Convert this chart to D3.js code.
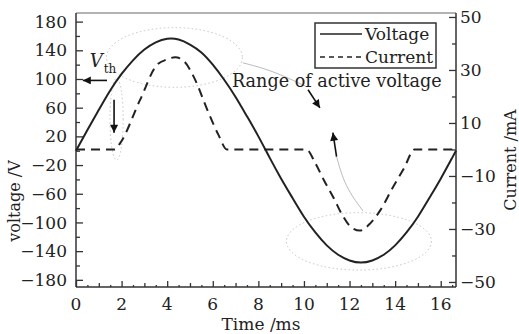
<!DOCTYPE html>
<html><head><meta charset="utf-8">
<script src="https://cdn.jsdelivr.net/npm/d3@7"></script>
<style>
html,body{margin:0;padding:0;background:#fff;}
svg text{font-family:"DejaVu Serif",serif;fill:#222;}
</style></head>
<body><svg id="c" width="519" height="334"></svg>
<script>
// ---- data ----
const voltageTime = [0,0.5,1,1.5,2,2.5,3,3.5,4,4.5,5,5.5,6,6.5,7,7.5,8,8.5,9,9.5,10,10.5,11,11.5,12,12.5,13,13.5,14,14.5,15,15.5,16,16.5,16.67];
const voltageValues = [0,29,57,84,107,126,141,151,156,155,148,137,120,99,75,48,20,-10,-39,-66,-92,-114,-132,-145,-153,-156,-153,-145,-132,-114,-92,-66,-39,-10,0];
const currentTime = [0,1.0,1.7,1.93,2.81,3.55,4.0,4.35,4.75,5.16,5.82,6.25,6.62,8.0,10.1,10.5,10.87,11.31,11.68,12.04,12.45,12.92,13.36,13.88,14.39,14.85,16.0,16.67];
const currentValues = [0,0,0,2.3,18.7,31.9,34.0,34.8,33.2,27.5,13.7,5.5,0,0,0,-5.2,-11.5,-18.4,-24.7,-29.1,-30.6,-27.8,-22.8,-14.6,-7.1,0,0,0];
const timeTicks = [0,2,4,6,8,10,12,14,16];
const voltageTicks = [180,140,100,60,20,-20,-60,-100,-140,-180];
const currentTicks = [50,30,10,-10,-30,-50];
const seriesNames = ["Voltage","Current"];

const svg = d3.select("#c");
const L=76,R=456,T=13,B=287;
const x = d3.scaleLinear([0,16.67],[L,R]);
const yV = d3.scaleLinear([-190,192],[B,T]);
const yI = d3.scaleLinear([-51.9,51.5],[B,T]);
const ink="#222";

// frame top
svg.append("line").attr("x1",L).attr("x2",R).attr("y1",T).attr("y2",T).attr("stroke","#999").attr("stroke-width",1.5);

// left axis
const gL = svg.append("g").attr("transform",`translate(${L},0)`);
gL.call(d3.axisRight(yV).tickValues(d3.range(-180,181,20)).tickSize(4).tickFormat(""));
gL.call(g=>g.selectAll(".tick line").filter(d=>voltageTicks.includes(d)).attr("x2",7));
gL.select(".domain").remove();
gL.append("line").attr("y1",T).attr("y2",B).attr("stroke","#333").attr("stroke-width",1.5);
gL.selectAll(".tick line").attr("stroke","#333").attr("stroke-width",1.3);
gL.selectAll(".vt").data(voltageTicks).join("text").attr("class","vt")
  .attr("x",-9).attr("y",d=>yV(d)).attr("dy","0.36em").attr("text-anchor","end")
  .style("font-size","17px").text(d=>d3.format("")(d));

// right axis
const gR = svg.append("g").attr("transform",`translate(${R},0)`);
gR.call(d3.axisLeft(yI).tickValues(d3.range(-50,51,10)).tickSize(4).tickFormat(""));
gR.call(g=>g.selectAll(".tick line").filter(d=>currentTicks.includes(d)).attr("x2",-7));
gR.select(".domain").remove();
gR.append("line").attr("y1",T).attr("y2",B).attr("stroke","#333").attr("stroke-width",1.5);
gR.selectAll(".tick line").attr("stroke","#333").attr("stroke-width",1.3);
gR.selectAll(".ct").data(currentTicks).join("text").attr("class","ct")
  .attr("x",4).attr("y",d=>yI(d)).attr("dy","0.36em").attr("text-anchor","start")
  .style("font-size","17px").text(d=>d3.format("")(d));

// bottom axis
const gB = svg.append("g").attr("transform",`translate(0,${B})`);
gB.call(d3.axisTop(x).tickValues(d3.range(0,16.6,0.5)).tickSize(2).tickFormat(""));
gB.call(g=>g.selectAll(".tick line").filter(d=>Number.isInteger(d)).attr("y2",-4));
gB.call(g=>g.selectAll(".tick line").filter(d=>timeTicks.includes(d)).attr("y2",-6));
gB.select(".domain").remove();
gB.append("line").attr("x1",L).attr("x2",R).attr("stroke","#333").attr("stroke-width",1.5);
gB.selectAll(".tick line").attr("stroke","#333").attr("stroke-width",1.3);
gB.selectAll(".tt").data(timeTicks).join("text").attr("class","tt")
  .attr("x",d=>x(d)).attr("y",23).attr("text-anchor","middle")
  .style("font-size","17px").text(d=>d);

// axis titles
svg.append("text").attr("transform","translate(20,201) rotate(-90)").attr("text-anchor","middle").style("font-size","16px").text("voltage /V");
svg.append("text").attr("transform","translate(516,160) rotate(-90)").attr("text-anchor","middle").style("font-size","16px").text("Current /mA");
svg.append("text").attr("x",261).attr("y",330).attr("text-anchor","middle").style("font-size","17px").text("Time /ms");

// annotations (gray dotted ellipses & connectors)
const sx = d=>x(d)-x(0), sy=d=>yV(0)-yV(d);
const ell = [
  {t:4.32,v:130,rt:2.98,rv:41.6},
  {t:1.78,v:44,rt:0.29,rv:57},
  {t:12.41,v:-126.4,rt:3.18,rv:40}
];
svg.selectAll(".ell").data(ell).join("ellipse").attr("class","ell")
  .attr("cx",d=>x(d.t)).attr("cy",d=>yV(d.v)).attr("rx",d=>sx(d.rt)).attr("ry",d=>sy(d.rv))
  .attr("fill","none").attr("stroke","#c4c4c4").attr("stroke-width",1).attr("stroke-dasharray","1.5,2.5");

const line = d3.line().x(d=>x(d[0])).y(d=>yV(d[1])).curve(d3.curveBasis);
svg.append("path").attr("d",line([[7.32,122.5],[8.6,112],[10.13,89]])).attr("fill","none").attr("stroke","#bbb").attr("stroke-width",1);
svg.append("path").attr("d",line([[11.43,-8.2],[11.8,-50],[12.59,-84]])).attr("fill","none").attr("stroke","#bbb").attr("stroke-width",1);

// arrows
svg.append("defs").append("marker").attr("id","ah").attr("viewBox","0 0 10 10").attr("refX",10).attr("refY",5)
  .attr("markerWidth",10).attr("markerHeight",8).attr("markerUnits","userSpaceOnUse").attr("orient","auto")
  .append("path").attr("d","M0,0L10,5L0,10z").attr("fill","#111");
const arrows = [
  [[1.36,98],[0.3,98]],
  [[1.67,71],[1.67,25]],
  [[10.18,85],[10.7,59.7]],
  [[11.43,-8.2],[11.27,25.2]]
];
svg.selectAll(".arr").data(arrows).join("line").attr("class","arr")
  .attr("x1",d=>x(d[0][0])).attr("y1",d=>yV(d[0][1])).attr("x2",d=>x(d[1][0])).attr("y2",d=>yV(d[1][1]))
  .attr("stroke","#111").attr("stroke-width",1.6).attr("marker-end","url(#ah)");

// Vth label
const vth = svg.append("text").attr("x",x(0.6)).attr("y",yV(117)).style("font-size","18px");
vth.append("tspan").style("font-style","italic").text("V");
vth.append("tspan").attr("dy",6).attr("dx",1).style("font-size","12px").text("th");

svg.append("text").attr("x",x(6.84)).attr("y",yV(89.4)).style("font-size","17.6px").text("Range of active voltage");

// series
const vline = d3.line().x((d,i)=>x(voltageTime[i])).y(d=>yV(d)).curve(d3.curveNatural);
svg.append("path").attr("d",vline(voltageValues)).attr("fill","none").attr("stroke",ink).attr("stroke-width",2);
const iline = d3.line().x((d,i)=>x(currentTime[i])).y(d=>yI(d)).curve(d3.curveMonotoneX);
svg.append("path").attr("d",iline(currentValues)).attr("fill","none").attr("stroke",ink).attr("stroke-width",2).attr("stroke-dasharray","9,6");

// legend
const lg = svg.append("g").attr("transform","translate(315,23)");
lg.append("rect").attr("width",121).attr("height",45).attr("fill","#fff").attr("stroke","#333").attr("stroke-width",1.5);
seriesNames.forEach((n,i)=>{
  const yy = 11+i*23;
  lg.append("line").attr("x1",5).attr("x2",47).attr("y1",yy).attr("y2",yy).attr("stroke",ink).attr("stroke-width",1.5)
    .attr("stroke-dasharray",i? "5,4":null);
  lg.append("text").attr("x",50).attr("y",yy+5.5).style("font-size","17px").text(n);
});
</script></body></html>
